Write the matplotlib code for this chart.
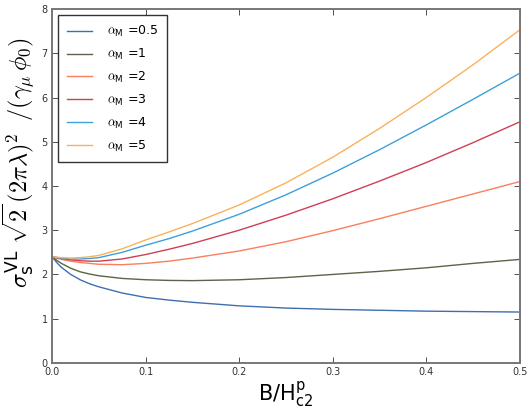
import matplotlib
matplotlib.use("Agg")
import matplotlib.pyplot as plt

plt.rcParams["mathtext.fontset"] = "cm"
plt.rcParams["font.family"] = "DejaVu Sans"

# B / H_c2^p sample points
b_field = [0.0, 0.005, 0.01, 0.02, 0.03, 0.04, 0.05, 0.075, 0.1, 0.125, 0.15, 0.2, 0.25,
           0.3, 0.35, 0.4, 0.45, 0.5]

alphas = ["0.5", "1", "2", "3", "4", "5"]
sigma_a05 = [2.4, 2.27, 2.16, 2.0, 1.88, 1.79, 1.72, 1.58, 1.48, 1.42, 1.37, 1.29, 1.24,
             1.21, 1.19, 1.17, 1.16, 1.15]
sigma_a1 = [2.4, 2.32, 2.25, 2.14, 2.06, 2.01, 1.97, 1.91, 1.88, 1.865, 1.86, 1.88, 1.93,
            2.0, 2.07, 2.15, 2.25, 2.34]
sigma_a2 = [2.4, 2.37, 2.34, 2.3, 2.27, 2.25, 2.23, 2.22, 2.25, 2.3, 2.37, 2.53, 2.74,
            2.99, 3.26, 3.54, 3.82, 4.1]
sigma_a3 = [2.4, 2.38, 2.36, 2.33, 2.31, 2.3, 2.3, 2.35, 2.45, 2.57, 2.7, 3.0, 3.34,
            3.71, 4.11, 4.53, 4.98, 5.45]
sigma_a4 = [2.4, 2.385, 2.37, 2.35, 2.35, 2.36, 2.38, 2.5, 2.66, 2.81, 2.98, 3.36, 3.8,
            4.29, 4.82, 5.38, 5.96, 6.55]
sigma_a5 = [2.4, 2.39, 2.38, 2.37, 2.38, 2.4, 2.43, 2.58, 2.78, 2.96, 3.15, 3.57, 4.07,
            4.65, 5.3, 6.0, 6.74, 7.53]
series = [sigma_a05, sigma_a1, sigma_a2, sigma_a3, sigma_a4, sigma_a5]
colors = ["#3f6fae", "#5a6447", "#fb7f5f", "#cf3f52", "#3ea0d9", "#f9b25a"]

fig = plt.figure(figsize=(5.31, 4.11), dpi=100)
ax = fig.add_axes([0.098, 0.117, 0.881, 0.861])

for vals, a, c in zip(series, alphas, colors):
    ax.plot(b_field, vals, color=c, lw=1.0, label=r"$\alpha_\mathregular{M}$ =" + a)

ax.set_xlim(0, 0.5)
ax.set_ylim(0, 8)
ax.set_xticks([0.0, 0.1, 0.2, 0.3, 0.4, 0.5])
ax.set_yticks(range(9))
ax.tick_params(direction="in", top=True, right=True, labelsize=7, colors="#333333",
               length=4, width=0.6, pad=3)
for s in ax.spines.values():
    s.set_color("#777777")
    s.set_linewidth(1.4)

ax.set_xlabel(r"$\mathregular{B/H_{c2}^{p}}$", fontsize=15, labelpad=2)
ax.set_ylabel(r"$\sigma_\mathregular{s}^\mathregular{VL}\;\sqrt{2}\,(2\pi\lambda)^2\;\;/(\gamma_\mu\,\phi_0)$",
              fontsize=17.5)
ax.yaxis.label.set_verticalalignment("center")
ax.yaxis.set_label_coords(-0.071, 0.565)

leg = ax.legend(loc="upper left", fontsize=9, frameon=True, fancybox=False,
                handlelength=2.0, labelspacing=0.62, borderpad=0.7, handletextpad=1.2,
                borderaxespad=0.5)
leg.get_frame().set_edgecolor("black")
leg.get_frame().set_linewidth(1.0)

fig.savefig("out.png", dpi=100)
